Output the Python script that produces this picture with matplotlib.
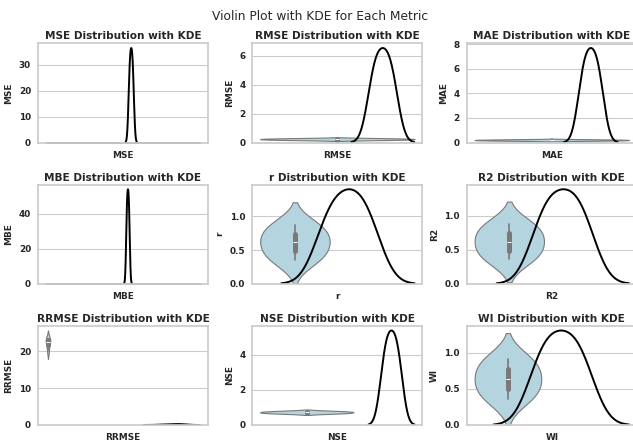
import matplotlib
matplotlib.use("Agg")
import matplotlib.pyplot as plt
from matplotlib.ticker import MaxNLocator
import numpy as np
import pandas as pd
import seaborn as sns

# metric values (one small sample per metric)
metrics = ["MSE", "RMSE", "MAE", "MBE", "r", "R2", "RRMSE", "NSE", "WI"]
mse = [0.0331, 0.0396, 0.0464, 0.0529]
rmse = [0.180, 0.216, 0.254, 0.290]
mae = [0.155, 0.186, 0.218, 0.249]
mbe = [0.0193, 0.0237, 0.0283, 0.0327]
r = [0.35, 0.53, 0.70, 0.87]
r2 = [0.36, 0.53, 0.71, 0.875]
rrmse = [20.2, 22.4, 23.0, 23.5]
nse = [0.659, 0.703, 0.749, 0.793]
wi = [0.366, 0.545, 0.735, 0.915]

df = pd.DataFrame({"MSE": mse, "RMSE": rmse, "MAE": mae, "MBE": mbe, "r": r,
                   "R2": r2, "RRMSE": rrmse, "NSE": nse, "WI": wi})

sns.set_theme(style="whitegrid")
plt.rcParams["font.family"] = ["DejaVu Sans"]

fig, axes = plt.subplots(3, 3, figsize=(6.33, 4.42), dpi=100)
fig.subplots_adjust(left=0.06, right=1.006, top=0.902, bottom=0.0385,
                    wspace=0.262, hspace=0.424)

for ax, m in zip(axes.flat, metrics):
    sns.violinplot(y=df[m], ax=ax, color="lightblue", linewidth=0.8)
    sns.kdeplot(df[m], ax=ax, color="black", linewidth=1.4)
    ax.set_title(f"{m} Distribution with KDE", fontsize=7.6,
                 fontweight="bold", pad=2.9)
    ax.set_xlabel(m, fontsize=6.4, fontweight="bold", labelpad=6)
    ax.set_ylabel(m, fontsize=6.4, fontweight="bold", labelpad=4)
    ax.set_xticks([])
    ax.xaxis.grid(False)
    ax.yaxis.set_major_locator(MaxNLocator(nbins=5, steps=[1, 2, 5, 10]))
    ax.tick_params(axis="both", length=0)
    ax.tick_params(axis="y", labelsize=6.4, pad=5)
    for lbl in ax.get_yticklabels():
        lbl.set_fontweight("bold")
    ax.grid(axis="y", linewidth=0.8)

fig.suptitle("Violin Plot with KDE for Each Metric", fontsize=8.8,
             x=0.506, y=0.978)
fig.savefig("out.png", dpi=100)
